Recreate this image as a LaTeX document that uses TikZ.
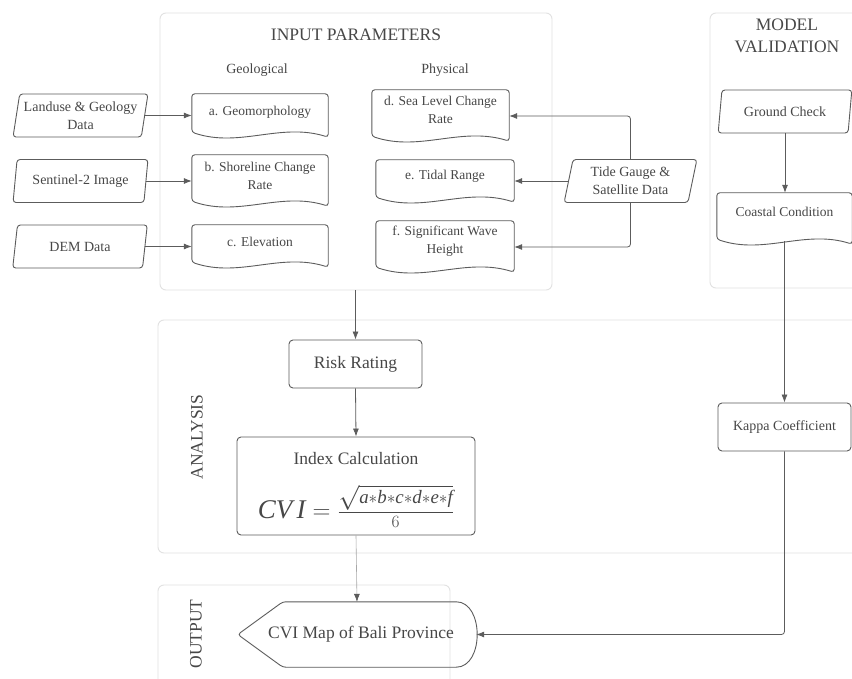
\documentclass[tikz,border=0pt]{standalone}
\usepackage{amsmath}
\usepackage{fontspec}
\setmainfont{Liberation Serif}
\usetikzlibrary{shapes.geometric,arrows.meta,calc}
\definecolor{txtc}{HTML}{474747}
\definecolor{edgec}{HTML}{5C5C5C}
\definecolor{panelc}{HTML}{E2E2E2}
\definecolor{lightc}{HTML}{A8A8A8}
\newcommand\bigtxt{\fontsize{17.5}{22}\selectfont}
\newcommand\smalltxt{\fontsize{14}{18}\selectfont}
\newcommand\doctxt{\fontsize{13.5}{18}\selectfont}
\newcommand\docoutline[1]{%
  \draw[boxline] (#1.north west) -- (#1.north east) -- ([yshift=1pt]#1.south east)
    .. controls ($(#1.south west)!0.65!(#1.south east)+(0pt,16pt)$) and ($(#1.south west)!0.35!(#1.south east)+(0pt,-10pt)$) .. ([yshift=6pt]#1.south west) -- cycle;}
\tikzset{
  panelbox/.style={draw=panelc, line width=0.9pt, rounded corners=6pt, fill=white, inner sep=0pt},
  boxline/.style={draw=edgec, line width=0.9pt, rounded corners=3pt},
  arr/.style={draw=edgec, line width=0.8pt, -{Latex[length=8pt,width=6pt]}},
  arrlight/.style={draw=lightc, line width=0.6pt, -{Latex[length=8pt,width=6pt,color=edgec]}},
  datain/.style={trapezium, trapezium left angle=78, trapezium right angle=102,
    trapezium stretches=true, draw=edgec, line width=0.9pt, rounded corners=3pt,
    minimum width=135pt, minimum height=43pt, inner xsep=1pt, inner ysep=1pt,
    align=center, font=\smalltxt, text=txtc},
  docbox/.style={inner sep=0pt},
  doclbl/.style={align=center, font=\doctxt, text=txtc, yshift=5pt},
  rbox/.style={draw=edgec, line width=0.9pt, rounded corners=4pt, align=center, text=txtc, inner sep=0pt},
  titletxt/.style={font=\bigtxt, text=txtc, align=center},
  subtxt/.style={font=\smalltxt, text=txtc}
}
\begin{document}
\begin{tikzpicture}[x=1pt,y=-1pt]
\useasboundingbox (0,0) rectangle (852,679);
\fill[white] (0,0) rectangle (852,679);
% panels
\begin{scope}
\clip (0,0) rectangle (852,679);
\node[panelbox, minimum width=392pt, minimum height=277pt] (inp) at (356,151.5) {};
\node[panelbox, minimum width=160pt, minimum height=275pt] (val) at (790,150.5) {};
\node[panelbox, minimum width=712pt, minimum height=233pt] (ana) at (514,436.5) {};
\node[panelbox, minimum width=292pt, minimum height=115pt] (outp) at (304,642.5) {};
\end{scope}
% titles
\node[titletxt] (tinp) at (356,35) {INPUT PARAMETERS};
\node[subtxt] (tgeo) at (257,70) {Geological};
\node[subtxt] (tphy) at (445,70) {Physical};
\node[titletxt] (tval) at (787,36) {MODEL\\VALIDATION};
\node[titletxt, rotate=90] (tana) at (197,437) {ANALYSIS};
\node[titletxt, rotate=90] (tout) at (196,634) {OUTPUT};
% data inputs
\node[datain] (land) at (80.5,115.5) {Landuse \& Geology\\Data};
\node[datain] (sent) at (80.5,181) {Sentinel-2 Image};
\node[datain] (dem) at (80,246.5) {DEM Data};
\node[datain, minimum width=133pt] (tide) at (630.5,181) {Tide Gauge \&\\Satellite Data};
\node[datain, minimum width=134pt] (ground) at (785,111.5) {Ground Check};
% document boxes
\node[docbox, minimum width=136pt, minimum height=44pt, label={[doclbl, yshift=-1pt]center:a. Geomorphology}] (ga) at (260,116) {};
\node[docbox, minimum width=136pt, minimum height=52pt, label={[doclbl]center:b. Shoreline Change\\Rate}] (gb) at (260,181) {};
\node[docbox, minimum width=136pt, minimum height=43pt, label={[doclbl]center:c. Elevation}] (gc) at (260,246.5) {};
\node[docbox, minimum width=137pt, minimum height=52pt, label={[doclbl, yshift=1pt]center:d. Sea Level Change\\Rate}] (pd) at (440.5,116) {};
\node[docbox, minimum width=138pt, minimum height=43pt, label={[doclbl]center:e. Tidal Range}] (pe) at (445,181.5) {};
\node[docbox, minimum width=138pt, minimum height=52pt, label={[doclbl, yshift=1pt]center:f. Significant Wave\\Height}] (pf) at (445,247) {};
\node[docbox, minimum width=135pt, minimum height=52pt, label={[doclbl, yshift=2pt]center:Coastal Condition}] (cc) at (784.5,219) {};
\docoutline{ga}
\docoutline{gb}
\docoutline{gc}
\docoutline{pd}
\docoutline{pe}
\docoutline{pf}
\docoutline{cc}
% analysis boxes
\node[rbox, minimum width=133pt, minimum height=48pt, font=\bigtxt] (risk) at (355.5,364) {Risk Rating};
\node[rbox, minimum width=238pt, minimum height=98pt,
  label={[titletxt, inner sep=0pt, yshift=27pt]center:Index Calculation},
  label={[text=txtc, inner sep=0pt, yshift=-20pt]center:{\fontsize{27}{30}\selectfont$\mathit{CV\,I} = \frac{\sqrt{\mathit{a{\ast}b{\ast}c{\ast}d{\ast}e{\ast}f}}}{6}$}}] (idx) at (356,486) {};
\node[rbox, minimum width=133pt, minimum height=48pt, font=\smalltxt] (kappa) at (784.5,427) {Kappa Coefficient};
% output display
\node[inner sep=0pt, minimum width=238pt, minimum height=65pt,
  label={[titletxt, xshift=4pt]center:CVI Map of Bali Province}] (cvi) at (357,634.5) {};
\draw[boxline] (cvi.west) -- ([xshift=45pt]cvi.north west) -- ([xshift=-23pt]cvi.north east)
  .. controls ([xshift=8pt]cvi.north east) and ([xshift=8pt]cvi.south east) .. ([xshift=-23pt]cvi.south east)
  -- ([xshift=45pt]cvi.south west) -- cycle;
% connectors
\draw[arr] (land.east) -- (land.east -| ga.west);
\draw[arr] (sent.east) -- (sent.east -| gb.west);
\draw[arr] (dem.east) -- (dem.east -| gc.west);
\draw[arr] (tide.west) -- (tide.west -| pe.east);
\draw[arr, rounded corners=3pt] (tide.north) |- (pd.east);
\draw[arr, rounded corners=3pt] (tide.south) |- (pf.east);
\draw[arr] (inp.south -| risk.north) -- (risk.north);
\draw[arr] (risk.south) -- (idx.north);
\draw[arrlight] (idx.south) -- (cvi.north);
\draw[arr] (ground.south) -- (ground.south |- cc.north);
\draw[arr] ([yshift=4pt]cc.south) -- (kappa.north);
\draw[arr, rounded corners=3pt] (kappa.south) |- (cvi.east);
\end{tikzpicture}
\end{document}
